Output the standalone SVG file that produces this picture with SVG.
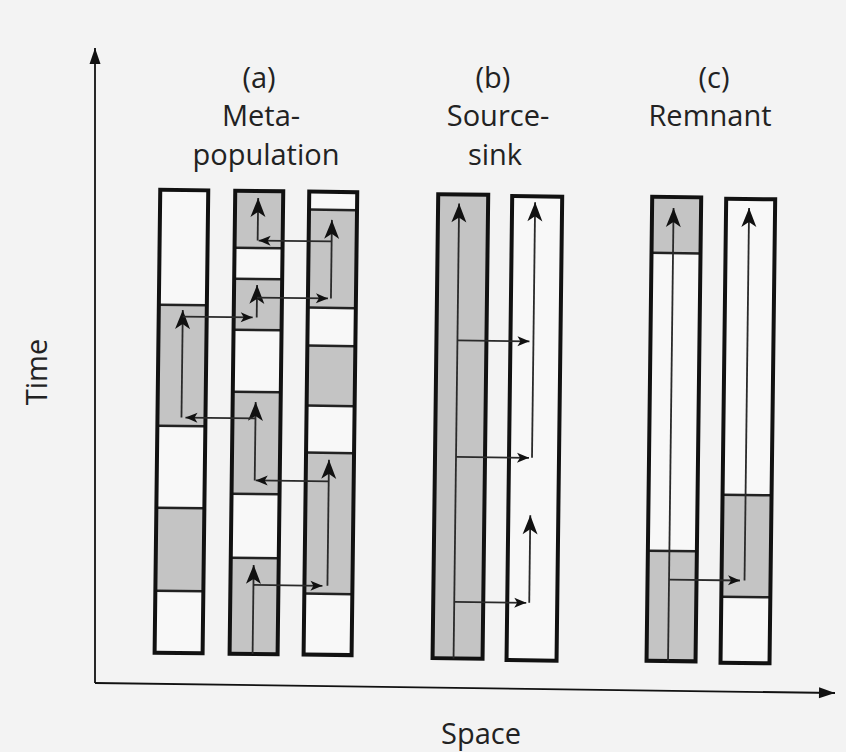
<svg xmlns="http://www.w3.org/2000/svg" width="846" height="752" viewBox="0 0 846 752">
<style>
.col{stroke:#111;stroke-width:4;fill:none}
.g{fill:#c4c4c4}
.w{fill:#f8f8f8}
.div{stroke:#222;stroke-width:2.5}
.ln{stroke:#2a2a2a;stroke-width:1.8;fill:none}
.v{marker-end:url(#big)}
.h{marker-end:url(#small)}
.t{font-family:"Open Sans","Noto Sans","Liberation Sans",sans-serif;font-size:29px;fill:#222;text-anchor:middle}
.ax{stroke:#111;stroke-width:1.8;fill:none}
</style>
<defs>
<marker id="big" markerUnits="userSpaceOnUse" markerWidth="22" markerHeight="18" refX="0" refY="0" viewBox="-20 -9 22 18" orient="auto" overflow="visible">
<path d="M0,0 L-19,-7.5 L-14,0 L-19,7.5 Z" fill="#111"/>
</marker>
<marker id="small" markerUnits="userSpaceOnUse" markerWidth="14" markerHeight="10" refX="0" refY="0" viewBox="-13 -5 14 10" orient="auto" overflow="visible">
<path d="M0,0 L-12,-5 L-9,0 L-12,5 Z" fill="#111"/>
</marker>
<marker id="axh" markerUnits="userSpaceOnUse" markerWidth="20" markerHeight="14" refX="0" refY="0" viewBox="-18 -7 20 14" orient="auto" overflow="visible">
<path d="M0,0 L-16,-5.5 L-16,5.5 Z" fill="#111"/>
</marker>
</defs>
<rect width="846" height="752" fill="#f3f3f3"/>

<g id="axes">
<path class="ax" d="M95,683 V48" marker-end="url(#axh)"/>
<path class="ax" d="M95,683 L835,693" marker-end="url(#axh)"/>
<text class="t" transform="translate(47,372) rotate(-90)">Time</text>
<text class="t" x="481" y="744">Space</text>
</g>

<g id="titles">
<text class="t" x="259" y="88">(a)</text>
<text class="t" x="261" y="126">Meta-</text>
<text class="t" x="266" y="165">population</text>
<text class="t" x="493" y="88">(b)</text>
<text class="t" x="498" y="126">Source-</text>
<text class="t" x="495" y="165">sink</text>
<text class="t" x="714" y="88">(c)</text>
<text class="t" x="710" y="126">Remnant</text>
</g>

<g transform="rotate(0.7 423 376)">
<g id="meta-patch-1">
<rect class="w" x="158" y="193" width="48" height="463"/>
<rect class="g" x="158" y="308" width="48" height="121"/>
<rect class="g" x="158" y="511" width="48" height="83"/>
<path class="div" d="M158,308 H206 M158,429 H206 M158,511 H206 M158,594 H206"/>
<rect class="col" x="158" y="193" width="48" height="463"/>
</g>
<g id="meta-patch-2">
<rect class="w" x="233" y="193" width="48" height="463"/>
<rect class="g" x="233" y="193" width="48" height="57"/>
<rect class="g" x="233" y="281" width="48" height="51"/>
<rect class="g" x="233" y="394" width="48" height="102"/>
<rect class="g" x="233" y="560" width="48" height="96"/>
<path class="div" d="M233,250 H281 M233,281 H281 M233,332 H281 M233,394 H281 M233,496 H281 M233,560 H281"/>
<rect class="col" x="233" y="193" width="48" height="463"/>
</g>
<g id="meta-patch-3">
<rect class="w" x="307" y="193" width="48" height="463"/>
<rect class="g" x="307" y="211" width="48" height="98"/>
<rect class="g" x="307" y="347" width="48" height="60"/>
<rect class="g" x="307" y="454" width="48" height="141"/>
<path class="div" d="M307,211 H355 M307,309 H355 M307,347 H355 M307,407 H355 M307,454 H355 M307,595 H355"/>
<rect class="col" x="307" y="193" width="48" height="463"/>
</g>
<g id="source">
<rect class="g" x="436" y="194" width="50" height="464"/>
<rect class="col" x="436" y="194" width="50" height="464"/>
</g>
<g id="sink">
<rect class="w" x="510" y="195" width="50" height="464"/>
<rect class="col" x="510" y="195" width="50" height="464"/>
</g>
<g id="remnant-1">
<rect class="w" x="650" y="194" width="49" height="464"/>
<rect class="g" x="650" y="194" width="49" height="56"/>
<rect class="g" x="650" y="548" width="49" height="110"/>
<path class="div" d="M650,250 H699 M650,548 H699"/>
<rect class="col" x="650" y="194" width="49" height="464"/>
</g>
<g id="remnant-2">
<rect class="w" x="724" y="195" width="49" height="464"/>
<rect class="g" x="724" y="491" width="49" height="102"/>
<path class="div" d="M724,491 H773 M724,593 H773"/>
<rect class="col" x="724" y="195" width="49" height="464"/>
</g>

<g id="connectors">
<path class="ln v" d="M256,656 V567"/>
<path class="ln h" d="M256,587 H325"/>
<path class="ln v" d="M330,587 V461"/>
<path class="ln h" d="M330,482.5 H257"/>
<path class="ln v" d="M256,482.5 V404"/>
<path class="ln h" d="M256,420.5 H186"/>
<path class="ln v" d="M182,420.5 V313"/>
<path class="ln h" d="M182,319.5 H252"/>
<path class="ln v" d="M256,319.5 V287"/>
<path class="ln h" d="M256,299.6 H327"/>
<path class="ln v" d="M330,299.6 V221"/>
<path class="ln h" d="M330,242.6 H257"/>
<path class="ln v" d="M256,242.6 V200"/>

<path class="ln v" d="M457,658 V203"/>
<path class="ln h" d="M457,340 H529"/>
<path class="ln h" d="M457,456.5 H530"/>
<path class="ln h" d="M457,601.5 H529"/>
<path class="ln v" d="M533,456.5 V201"/>
<path class="ln v" d="M532,601.5 V514"/>

<path class="ln v" d="M671.5,658 V205"/>
<path class="ln h" d="M671.5,576.6 H742.5"/>
<path class="ln v" d="M747,576.6 V204"/>
</g>
</g>
</svg>
